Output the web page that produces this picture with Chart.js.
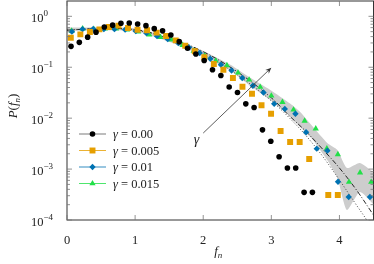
<!DOCTYPE html>
<html>
<head>
<meta charset="utf-8">
<script src="https://cdn.jsdelivr.net/npm/chart.js@4/dist/chart.umd.min.js"></script>
<style>
  html, body { margin: 0; padding: 0; background: #fff; }
  canvas { display: block; }
</style>
</head>
<body>
<canvas id="grafico" width="374" height="264"></canvas>
<script>
/* P(f_n) para vários gamma - eixo y logarítmico */

// --- dados ---
const gammaLabels = ["0.00", "0.005", "0.01", "0.015"];

const blackF = [0.059, 0.181, 0.303, 0.426, 0.548, 0.670, 0.792, 0.914, 1.037, 1.159,
  1.281, 1.403, 1.525, 1.648, 1.770, 1.892, 2.014, 2.136, 2.259, 2.381,
  2.503, 2.625, 2.747, 2.870, 2.992, 3.114, 3.236, 3.358, 3.481, 3.603];
const blackP = [0.257, 0.308, 0.390, 0.489, 0.618, 0.671, 0.730, 0.740, 0.709, 0.656,
  0.573, 0.518, 0.430, 0.318, 0.236, 0.182, 0.136, 0.0893, 0.069, 0.0408,
  0.0319, 0.0191, 0.0162, 0.00589, 0.00352, 0.00175, 0.00105, 0.00105, 0.000349, 0.000349];

const orangeF = [0.056, 0.196, 0.336, 0.476, 0.616, 0.756, 0.896, 1.036, 1.176, 1.316,
  1.456, 1.596, 1.736, 1.876, 2.016, 2.156, 2.296, 2.436, 2.576, 2.716,
  2.856, 2.996, 3.136, 3.276, 3.416, 3.556, 3.696, 3.836, 3.976];
const orangeP = [0.381, 0.442, 0.493, 0.555, 0.618, 0.656, 0.590, 0.547, 0.535, 0.478,
  0.411, 0.337, 0.265, 0.206, 0.157, 0.116, 0.0893, 0.0613, 0.0413, 0.0301,
  0.0179, 0.0122, 0.00562, 0.00341, 0.00341, 0.00158, null, 0.000309, 0.000309];

const blueF = [0.072, 0.228, 0.385, 0.541, 0.697, 0.853, 1.010, 1.166, 1.322, 1.479,
  1.635, 1.791, 1.948, 2.104, 2.260, 2.416, 2.573, 2.729, 2.885, 3.042,
  3.198, 3.354, 3.510, 3.667, 3.823, 3.979, 4.136, 4.292, 4.448];
const blueP = [0.500, 0.560, 0.565, 0.560, 0.560, 0.547, 0.511, 0.467, 0.408, 0.356,
  0.297, 0.245, 0.190, 0.147, 0.112, 0.0865, 0.0613, 0.0432, 0.0319, 0.0191,
  0.0152, 0.0122, 0.0053, 0.00252, 0.0023, 0.000565, 0.000282, null, 0.000282];

const greenF = [0.068, 0.230, 0.393, 0.556, 0.719, 0.882, 1.045, 1.208, 1.371, 1.534,
  1.697, 1.860, 2.022, 2.185, 2.348, 2.511, 2.674, 2.837, 3.000, 3.163,
  3.326, 3.489, 3.652, 3.815, 3.977, 4.140, 4.303, 4.466];
const greenP = [0.516, 0.573, 0.560, 0.573, 0.573, 0.547, 0.500, 0.436, 0.390, 0.348,
  0.271, 0.209, 0.168, 0.134, 0.109, 0.078, 0.0568, 0.0408, 0.0275, 0.0207,
  0.0146, 0.00885, 0.00624, 0.00252, 0.00194, 0.000557, 0.000849, 0.000557];

// faixa cinza (incerteza)
const bandF = [0, 0.5, 1, 1.5, 1.96, 2.4, 2.69, 2.98, 3.28, 3.42, 3.61, 3.82, 3.97, 4.11, 4.30, 4.51];
const bandHi = [0.600, 0.613, 0.586, 0.381, 0.221, 0.112, 0.0621, 0.0361, 0.0191, 0.0133,
  0.00675, 0.00327, 0.00238, 0.00105, 0.00132, 0.000838];
const bandLo = [0.523, 0.535, 0.511, 0.318, 0.176, 0.0853, 0.0432, 0.0229, 0.0106, 0.00675,
  0.00374, 0.00151, 0.000668, 0.000157, 0.000354, 0.000196];

// curvas teóricas
const dashDotF = [0, 0.5, 1, 1.5, 2, 2.5, 3, 3.25, 3.5, 3.75, 4, 4.25, 4.5];
const dashDotP = [0.535, 0.573, 0.547, 0.381, 0.202, 0.0815, 0.0251, 0.0116, 0.00562, 0.00249, 0.00105, 0.000388, 0.000125];
const dottedF = [0, 0.5, 1, 1.5, 2, 2.5, 3, 3.25, 3.5, 3.75, 4, 4.25, 4.4, 4.5];
const dottedP = [0.535, 0.573, 0.535, 0.364, 0.184, 0.0711, 0.0219, 0.0106, 0.00469, 0.00181, 0.00061, 0.000196, 0.0001, 0.0000585];

const xTicks = [0, 1, 2, 3, 4];
const yExponents = [0, -1, -2, -3, -4];

// seta "gamma" (em coordenadas dos dados)
const arrowFrom = [2.0, 0.0051];
const arrowTo = [3.0, 0.098];
const gammaAt = [1.9, 0.0036];

// --- estilo ---
const SERIF = '"Liberation Serif", "DejaVu Serif", serif';
const styles = [
  { shape: "circle", r: 2.8, color: "#000000", legendLine: "rgba(90,90,90,0.8)" },
  { shape: "rect", r: 4.2, color: "#E69F00", legendLine: "rgba(230,159,0,0.8)" },
  { shape: "rectRot", r: 3.2, color: "#0072B2", legendLine: "rgba(0,114,178,0.8)" },
  { shape: "triangle", r: 3.6, color: "#22E048", legendLine: "rgba(34,224,72,0.8)" },
];

const pts = (xs, ys) => xs.map((x, i) => ({ x, y: ys[i] }));

function marker(ctx, st, x, y) {
  const r = st.r;
  ctx.fillStyle = st.color;
  ctx.beginPath();
  if (st.shape === "circle") {
    ctx.arc(x, y, r, 0, Math.PI * 2);
  } else if (st.shape === "rect") {
    const s = r * Math.SQRT1_2;
    ctx.rect(x - s, y - s, 2 * s, 2 * s);
  } else if (st.shape === "rectRot") {
    ctx.moveTo(x - r, y); ctx.lineTo(x, y - r); ctx.lineTo(x + r, y); ctx.lineTo(x, y + r);
    ctx.closePath();
  } else {
    const a = 2 * Math.PI / 3;
    ctx.moveTo(x, y - r);
    ctx.lineTo(x + Math.sin(a) * r, y - Math.cos(a) * r);
    ctx.lineTo(x + Math.sin(2 * a) * r, y - Math.cos(2 * a) * r);
    ctx.closePath();
  }
  ctx.fill();
}

// texto com partes (itálico, índice, expoente)
function richText(ctx, parts, x, y, align) {
  let total = 0;
  parts.forEach((p) => { ctx.font = p.font; p.w = ctx.measureText(p.t).width; total += p.w; });
  let cx = align === "center" ? x - total / 2 : x;
  parts.forEach((p) => {
    ctx.font = p.font;
    ctx.textAlign = "left";
    ctx.fillText(p.t, cx, y + (p.dy || 0));
    cx += p.w;
  });
}

const framePlugin = {
  id: "moldura",
  afterDatasetsDraw(chart) {
    const { ctx, scales: { x, y } } = chart;
    ctx.save();
    // seta
    const x1 = x.getPixelForValue(arrowFrom[0]), y1 = y.getPixelForValue(arrowFrom[1]);
    const x2 = x.getPixelForValue(arrowTo[0]), y2 = y.getPixelForValue(arrowTo[1]);
    const ang = Math.atan2(y2 - y1, x2 - x1);
    ctx.strokeStyle = "#333";
    ctx.fillStyle = "#333";
    ctx.lineWidth = 0.8;
    ctx.beginPath();
    ctx.moveTo(x1, y1);
    ctx.lineTo(x2 - Math.cos(ang) * 3, y2 - Math.sin(ang) * 3);
    ctx.stroke();
    ctx.beginPath();
    ctx.moveTo(x2, y2);
    ctx.lineTo(x2 - 6 * Math.cos(ang) + 2.5 * Math.sin(ang), y2 - 6 * Math.sin(ang) - 2.5 * Math.cos(ang));
    ctx.lineTo(x2 - 4 * Math.cos(ang), y2 - 4 * Math.sin(ang));
    ctx.lineTo(x2 - 6 * Math.cos(ang) - 2.5 * Math.sin(ang), y2 - 6 * Math.sin(ang) + 2.5 * Math.cos(ang));
    ctx.closePath();
    ctx.fill();
    // rótulo gamma
    ctx.fillStyle = "#222";
    ctx.font = `italic 14px ${SERIF}`;
    ctx.textAlign = "center";
    ctx.textBaseline = "middle";
    ctx.fillText("γ", x.getPixelForValue(gammaAt[0]), y.getPixelForValue(gammaAt[1]));
    ctx.restore();
  },
  afterDraw(chart) {
    const { ctx, chartArea: a, scales: { x, y } } = chart;
    ctx.save();

    // moldura
    ctx.strokeStyle = "#333";
    ctx.lineWidth = 1;
    ctx.strokeRect(a.left, a.top, a.right - a.left, a.bottom - a.top);

    // ticks para dentro
    ctx.strokeStyle = "#777";
    ctx.lineWidth = 0.8;
    ctx.beginPath();
    xTicks.forEach((v) => {
      const px = x.getPixelForValue(v);
      ctx.moveTo(px, a.bottom); ctx.lineTo(px, a.bottom - 5);
      ctx.moveTo(px, a.top); ctx.lineTo(px, a.top + 5);
    });
    yExponents.forEach((e) => {
      const py = y.getPixelForValue(Math.pow(10, e));
      ctx.moveTo(a.left, py); ctx.lineTo(a.left + 5, py);
      ctx.moveTo(a.right, py); ctx.lineTo(a.right - 5, py);
      if (e < 0) {
        for (let m = 2; m <= 9; m++) {
          const pm = y.getPixelForValue(m * Math.pow(10, e));
          ctx.moveTo(a.left, pm); ctx.lineTo(a.left + 3, pm);
          ctx.moveTo(a.right, pm); ctx.lineTo(a.right - 3, pm);
        }
      }
    });
    ctx.stroke();

    // rótulos do eixo y: 10^k
    ctx.fillStyle = "#222";
    ctx.textBaseline = "alphabetic";
    yExponents.forEach((e) => {
      const py = y.getPixelForValue(Math.pow(10, e));
      richText(ctx, [
        { t: "10", font: `12.5px ${SERIF}`, dy: 5.5 },
        { t: e === 0 ? "0" : "\u2212" + (-e), font: `9px ${SERIF}`, dy: -0.5 },
      ], 31, py, "left");
    });

    // títulos dos eixos
    richText(ctx, [
      { t: "f", font: `italic 13px ${SERIF}` },
      { t: "n", font: `italic 9px ${SERIF}`, dy: 3 },
    ], (a.left + a.right) / 2 - 2, 255, "center");

    ctx.save();
    ctx.translate(17, 106);
    ctx.rotate(-Math.PI / 2);
    richText(ctx, [
      { t: "P", font: `italic 13px ${SERIF}` },
      { t: "(", font: `13px ${SERIF}` },
      { t: "f", font: `italic 13px ${SERIF}` },
      { t: "n", font: `italic 9px ${SERIF}`, dy: 3 },
      { t: ")", font: `13px ${SERIF}` },
    ], 0, 0, "center");
    ctx.restore();

    // legenda
    styles.forEach((st, i) => {
      const ly = a.top + 133 + i * 16.5;
      ctx.strokeStyle = st.legendLine;
      ctx.lineWidth = 1;
      ctx.beginPath();
      ctx.moveTo(a.left + 12, ly);
      ctx.lineTo(a.left + 39, ly);
      ctx.stroke();
      marker(ctx, st, a.left + 25.5, ly);
      ctx.fillStyle = "#222";
      richText(ctx, [
        { t: "γ", font: `italic 12.5px ${SERIF}` },
        { t: " = " + gammaLabels[i], font: `12.5px ${SERIF}` },
      ], a.left + 46, ly + 4, "left");
    });

    ctx.restore();
  },
};

const seriesF = [blackF, orangeF, blueF, greenF];
const seriesP = [blackP, orangeP, blueP, greenP];

const datasets = styles.map((st, i) => ({
  label: "γ = " + gammaLabels[i],
  data: pts(seriesF[i], seriesP[i]),
  showLine: false,
  pointStyle: st.shape,
  pointRadius: st.r,
  pointBackgroundColor: st.color,
  pointBorderWidth: 0,
  pointBorderColor: "rgba(0,0,0,0)",
}));

datasets.push(
  {
    label: "dash-dot",
    data: pts(dashDotF, dashDotP),
    borderColor: "#111",
    borderWidth: 0.9,
    borderDash: [5, 2, 1, 2],
    pointRadius: 0,
    tension: 0.35,
    fill: false,
  },
  {
    label: "dotted",
    data: pts(dottedF, dottedP),
    borderColor: "#333",
    borderWidth: 0.9,
    borderDash: [1, 2],
    pointRadius: 0,
    tension: 0.35,
    fill: false,
  },
  {
    label: "band-hi",
    data: pts(bandF, bandHi),
    borderColor: "rgba(0,0,0,0)",
    borderWidth: 0,
    backgroundColor: "rgb(205,205,205)",
    pointRadius: 0,
    tension: 0.2,
    fill: "+1",
  },
  {
    label: "band-lo",
    data: pts(bandF, bandLo),
    borderColor: "rgba(0,0,0,0)",
    borderWidth: 0,
    pointRadius: 0,
    tension: 0.2,
    fill: false,
  }
);

new Chart(document.getElementById("grafico"), {
  type: "line",
  data: { datasets },
  plugins: [framePlugin],
  options: {
    responsive: false,
    animation: false,
    // sem autoPadding: a área do gráfico fica fixa (67..373.5 x 1..220)
    layout: { autoPadding: false, padding: { top: 1, right: 0.5, left: 0, bottom: 0 } },
    plugins: { legend: { display: false }, tooltip: { enabled: false } },
    scales: {
      x: {
        type: "linear",
        min: 0,
        max: 4.5,
        grid: { display: false },
        border: { display: false },
        afterBuildTicks: (s) => { s.ticks = s.ticks.filter((t) => xTicks.includes(t.value)); },
        afterFit: (s) => { s.height = 44; },
        ticks: { stepSize: 1, padding: 5, color: "#222", font: { family: SERIF, size: 12.5 } },
      },
      y: {
        type: "logarithmic",
        min: 1e-4,
        max: 2,
        grid: { display: false },
        border: { display: false },
        ticks: { display: false },
        afterFit: (s) => { s.width = 67; },
      },
    },
  },
});
</script>
</body>
</html>
